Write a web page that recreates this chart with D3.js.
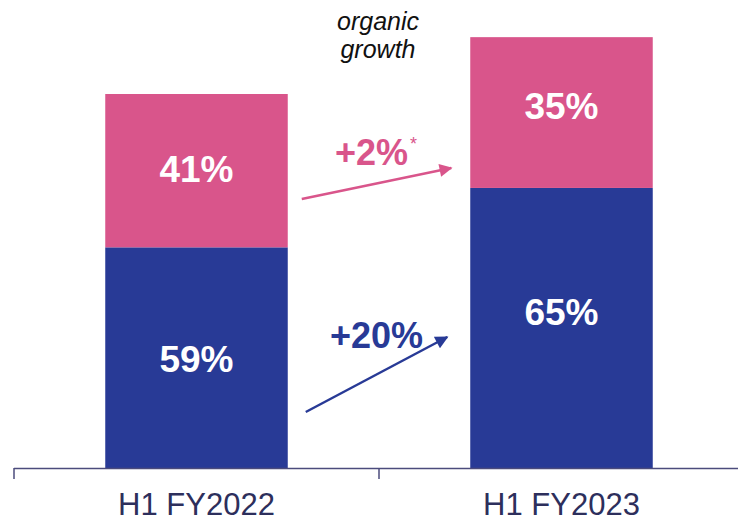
<!DOCTYPE html>
<html>
<head>
<meta charset="utf-8">
<script src="https://cdn.jsdelivr.net/npm/d3@7"></script>
<style>
  html, body { margin: 0; padding: 0; background: #ffffff; }
  svg { display: block; font-family: "Liberation Sans", Arial, sans-serif; }
</style>
</head>
<body>
<svg id="chart" width="738" height="523"></svg>
<script>
// Half-year revenue mix (indexed totals) and segment shares
const periods = ["H1 FY2022", "H1 FY2023"];
const totals = [100, 115.2];
const bottomShare = [59, 65];   // blue segment, %
const topShare = [41, 35];      // pink segment, %
const growthLabels = ["+20%", "+2%"]; // blue, pink organic growth
const headerLines = ["organic", "growth"];

const BLUE = "#283a96";
const PINK = "#d9558b";
const AXIS = "#4b4b7c";
const LABEL = "#2d2f5c";

const svg = d3.select("#chart");
const baseY = 468;

const x = d3.scaleBand().domain(periods).range([14, 744]).padding(0);
const y = d3.scaleLinear().domain([0, 100]).range([baseY, 94]);
const barW = x.bandwidth() * 0.5;
const barX = p => x(p) + (x.bandwidth() - barW) / 2;

const rows = periods.map((p, i) => {
  const blue = totals[i] * bottomShare[i] / 100;
  const pink = totals[i] * topShare[i] / 100;
  return { p, blue, pink, total: blue + pink, bs: bottomShare[i], ts: topShare[i] };
});

// stacked bars
const g = svg.append("g");
g.selectAll("rect.blue").data(rows).join("rect")
  .attr("class", "blue")
  .attr("x", d => barX(d.p)).attr("width", barW)
  .attr("y", d => y(d.blue)).attr("height", d => y(0) - y(d.blue))
  .attr("fill", BLUE);
g.selectAll("rect.pink").data(rows).join("rect")
  .attr("class", "pink")
  .attr("x", d => barX(d.p)).attr("width", barW)
  .attr("y", d => y(d.total)).attr("height", d => y(d.blue) - y(d.total))
  .attr("fill", PINK);

// share labels
const shareLabel = (sel) => sel
  .attr("text-anchor", "middle").attr("dominant-baseline", "central")
  .attr("fill", "#ffffff").attr("font-weight", "bold").attr("font-size", 37);
g.selectAll("text.bl").data(rows).join("text").attr("class", "bl")
  .attr("x", d => x(d.p) + x.bandwidth() / 2)
  .attr("y", (d, i) => (y(0) + y(d.blue)) / 2 + (i === 0 ? 2 : -15))
  .text(d => d.bs + "%").call(shareLabel);
g.selectAll("text.pl").data(rows).join("text").attr("class", "pl")
  .attr("x", d => x(d.p) + x.bandwidth() / 2)
  .attr("y", (d, i) => (y(d.blue) + y(d.total)) / 2 + (i === 0 ? -1 : -6))
  .text(d => d.ts + "%").call(shareLabel);

// axis: baseline with dividers between periods, labels centred under bars
const axisG = svg.append("g").attr("transform", `translate(0,${baseY})`);
axisG.call(d3.axisBottom(x).tickSize(0).tickPadding(25))
  .call(a => a.select(".domain").remove());
axisG.selectAll(".tick text")
  .attr("font-family", "Liberation Sans, Arial, sans-serif")
  .attr("font-size", 31).attr("fill", LABEL);
axisG.append("line").attr("x1", x.range()[0]).attr("x2", x.range()[1])
  .attr("y1", 0.5).attr("y2", 0.5).attr("stroke", AXIS).attr("stroke-width", 1.5);
const dividers = periods.map(p => x(p)).concat([x.range()[1]]);
axisG.selectAll("line.div").data(dividers).join("line").attr("class", "div")
  .attr("x1", d => d).attr("x2", d => d).attr("y1", 0).attr("y2", 11)
  .attr("stroke", AXIS).attr("stroke-width", 1.5);

// growth arrows between the bars
const defs = svg.append("defs");
[["ahBlue", BLUE], ["ahPink", PINK]].forEach(([id, c]) => {
  defs.append("marker").attr("id", id)
    .attr("viewBox", "0 0 10 10").attr("refX", 9).attr("refY", 5)
    .attr("markerUnits", "userSpaceOnUse")
    .attr("markerWidth", 17).attr("markerHeight", 13).attr("orient", "auto")
    .append("path").attr("d", "M0,0 L10,5 L0,10 Z").attr("fill", c);
});
const x0 = barX(periods[0]) + barW + 14;
const x1 = barX(periods[1]) - 19;
svg.append("line")
  .attr("x1", x0 + 4).attr("y1", 412).attr("x2", x1 - 4).attr("y2", 337)
  .attr("stroke", BLUE).attr("stroke-width", 2.5).attr("marker-end", "url(#ahBlue)");
svg.append("line")
  .attr("x1", x0).attr("y1", 199).attr("x2", x1).attr("y2", 168)
  .attr("stroke", PINK).attr("stroke-width", 2.5).attr("marker-end", "url(#ahPink)");

svg.append("text").attr("x", 330).attr("y", 348)
  .attr("font-size", 36).attr("font-weight", "bold").attr("fill", BLUE)
  .text(growthLabels[0]);
const pinkT = svg.append("text").attr("x", 335).attr("y", 165)
  .attr("font-size", 36).attr("font-weight", "bold").attr("fill", PINK);
pinkT.append("tspan").text(growthLabels[1]);
pinkT.append("tspan").attr("dx", 2).attr("dy", -15).attr("font-size", 18)
  .attr("font-weight", "normal").text("*");

// header
svg.append("g").selectAll("text").data(headerLines).join("text")
  .attr("x", 378).attr("y", (d, i) => 30 + i * 28)
  .attr("text-anchor", "middle").attr("font-style", "italic")
  .attr("font-size", 25).attr("fill", "#111111")
  .text(d => d);
</script>
</body>
</html>
